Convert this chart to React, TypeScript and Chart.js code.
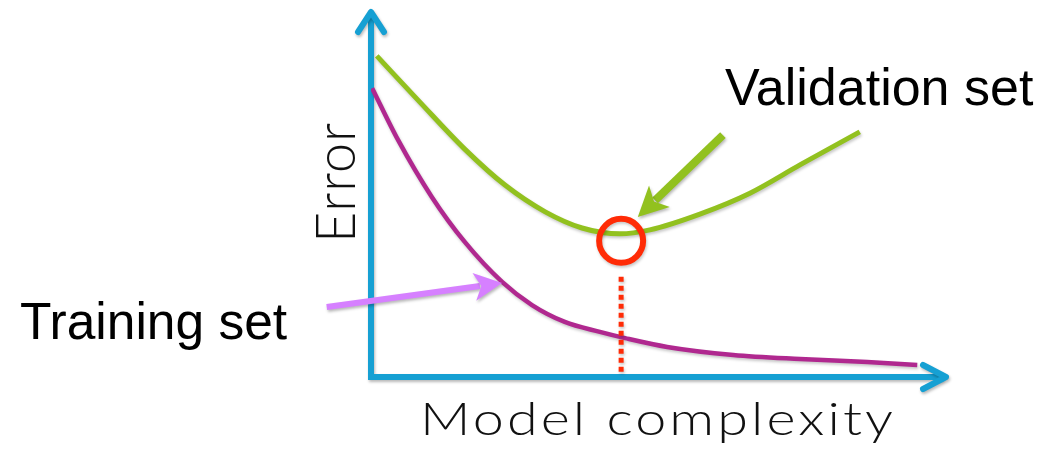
import React, { useEffect, useRef } from "react";
import { Chart, registerables } from "chart.js";

Chart.register(...registerables);

// ---- data (model complexity vs error) ----
const validationComplexity = [0.1, 0.85, 1.63, 2.33, 3.03, 3.67, 4.33, 4.85, 5.72, 6.59, 7.46, 8.5];
const validationError = [8.75, 7.49, 6.21, 5.23, 4.5, 4.06, 3.9, 4.01, 4.44, 5.01, 5.78, 6.68];
const trainingComplexity = [0.02, 0.47, 1.06, 1.63, 2.28, 2.8, 3.37, 3.98, 4.42, 5.15, 6.3, 7.46, 8.63, 9.5];
const trainingError = [7.87, 6.46, 4.9, 3.68, 2.59, 1.96, 1.5, 1.23, 1.06, 0.82, 0.6, 0.49, 0.41, 0.33];
const optimumPoint = [4.35, 3.71];
const optimumDrop = [0.14, 2.83];
const axisRange = [0, 10];
const trainingPointer = [[-0.77, 1.91], [2.28, 2.56]];
const validationPointer = [[6.12, 6.59], [4.64, 4.36]];
const validationLabel = "Validation set";
const trainingLabel = "Training set";
const yTitle = "Error";
const xTitle = "Model complexity";

const BLUE = "#16a0d3";
const GREEN = "#92c11f";
const PURPLE = "#b0288f";
const PINK = "#d680ff";
const RED = "#ff2b06";
const SHADOW = "rgba(0,0,0,0.28)";

function toPts(xs: number[], ys: number[]) {
  return xs.map((x, i) => ({ x, y: ys[i] }));
}

function drawPointer(ctx: CanvasRenderingContext2D, x1: number, y1: number, x2: number, y2: number, color: string, width: number, headLen: number, headHalf: number) {
  const ang = Math.atan2(y2 - y1, x2 - x1);
  const cos = Math.cos(ang), sin = Math.sin(ang);
  const bx = x2 - cos * headLen * 0.8, by = y2 - sin * headLen * 0.8;
  ctx.strokeStyle = color;
  ctx.fillStyle = color;
  ctx.lineWidth = width;
  ctx.lineCap = "butt";
  ctx.beginPath();
  ctx.moveTo(x1, y1);
  ctx.lineTo(bx, by);
  ctx.stroke();
  const backX = x2 - cos * headLen, backY = y2 - sin * headLen;
  ctx.beginPath();
  ctx.moveTo(x2, y2);
  ctx.lineTo(backX - sin * headHalf, backY + cos * headHalf);
  ctx.lineTo(x2 - cos * headLen * 0.75, y2 - sin * headLen * 0.75);
  ctx.lineTo(backX + sin * headHalf, backY - cos * headHalf);
  ctx.closePath();
  ctx.fill();
}

// draws text left-aligned at (x, y), stretched horizontally to span `width`
function stretchText(ctx: CanvasRenderingContext2D, text: string, x: number, y: number, width: number, spacing: number) {
  (ctx as any).letterSpacing = spacing + "px";
  ctx.textAlign = "left";
  const w = ctx.measureText(text).width - spacing;
  const sx = width / w;
  ctx.save();
  ctx.translate(x, y);
  ctx.scale(sx, 1);
  ctx.fillText(text, 0, 0);
  ctx.restore();
  (ctx as any).letterSpacing = "0px";
}

const decorPlugin = {
  id: "decor",
  beforeDatasetsDraw(chart: any) {
    const { ctx, scales } = chart;
    const xs = scales.x, ys = scales.y;
    const x0 = xs.getPixelForValue(axisRange[0]);
    const x1 = xs.getPixelForValue(axisRange[1]);
    const y0 = ys.getPixelForValue(axisRange[0]);
    const y1 = ys.getPixelForValue(axisRange[1]);
    ctx.save();
    ctx.shadowColor = SHADOW;
    ctx.shadowBlur = 3;
    ctx.shadowOffsetX = 1;
    ctx.shadowOffsetY = 2;
    ctx.strokeStyle = BLUE;
    ctx.lineWidth = 6;
    ctx.lineJoin = "miter";
    ctx.lineCap = "butt";
    ctx.beginPath();
    ctx.moveTo(x0, y1 + 3);
    ctx.lineTo(x0, y0);
    ctx.lineTo(x1 - 3, y0);
    ctx.stroke();
    ctx.lineCap = "round";
    ctx.lineJoin = "round";
    ctx.beginPath();
    ctx.moveTo(x0 - 13, y1 + 22);
    ctx.lineTo(x0, y1 + 2);
    ctx.lineTo(x0 + 13, y1 + 22);
    ctx.stroke();
    ctx.beginPath();
    ctx.moveTo(x1 - 23, y0 - 12);
    ctx.lineTo(x1, y0);
    ctx.lineTo(x1 - 23, y0 + 12);
    ctx.stroke();
    ctx.restore();
  },
  beforeDatasetDraw(chart: any) {
    const ctx = chart.ctx;
    ctx.save();
    ctx.shadowColor = "rgba(0,0,0,0.22)";
    ctx.shadowBlur = 3;
    ctx.shadowOffsetX = 1;
    ctx.shadowOffsetY = 2;
  },
  afterDatasetDraw(chart: any) {
    chart.ctx.restore();
  },
  afterDraw(chart: any) {
    const { ctx, scales } = chart;
    const xs = scales.x, ys = scales.y;
    ctx.save();
    ctx.shadowColor = SHADOW;
    ctx.shadowBlur = 3;
    ctx.shadowOffsetX = 1;
    ctx.shadowOffsetY = 2;
    drawPointer(
      ctx,
      xs.getPixelForValue(trainingPointer[0][0]), ys.getPixelForValue(trainingPointer[0][1]),
      xs.getPixelForValue(trainingPointer[1][0]), ys.getPixelForValue(trainingPointer[1][1]),
      PINK, 6, 28, 14
    );
    drawPointer(
      ctx,
      xs.getPixelForValue(validationPointer[0][0]), ys.getPixelForValue(validationPointer[0][1]),
      xs.getPixelForValue(validationPointer[1][0]), ys.getPixelForValue(validationPointer[1][1]),
      GREEN, 8, 30, 15
    );
    ctx.restore();

    ctx.save();
    ctx.fillStyle = "#000";
    ctx.textAlign = "left";
    ctx.textBaseline = "alphabetic";
    ctx.font = "52px 'Liberation Sans', Arial, sans-serif";
    ctx.fillText(validationLabel, 725, 105);
    ctx.font = "51.5px 'Liberation Sans', Arial, sans-serif";
    ctx.fillText(trainingLabel, 20, 339);

    ctx.fillStyle = "#111";
    ctx.font = "300 45px Lato, 'Open Sans', sans-serif";
    stretchText(ctx, xTitle, 420, 435, 473, 2.5);

    ctx.save();
    ctx.translate(355, 243);
    ctx.rotate(-Math.PI / 2);
    ctx.font = "300 55px Lato, 'Open Sans', sans-serif";
    stretchText(ctx, yTitle, 0, 0, 120, 1);
    ctx.restore();
    ctx.restore();
  },
};

export default function App() {
  const ref = useRef<HTMLCanvasElement | null>(null);

  useEffect(() => {
    document.body.style.margin = "0";
    const canvas = ref.current;
    if (!canvas) return;
    const chart = new Chart(canvas, {
      type: "line",
      data: {
        datasets: [
          {
            label: "optimum",
            data: [{ x: optimumPoint[0], y: optimumPoint[1] }],
            showLine: false,
            pointRadius: 22,
            pointHoverRadius: 22,
            pointBorderWidth: 6,
            pointBorderColor: RED,
            pointBackgroundColor: "rgba(0,0,0,0)",
            borderColor: RED,
            order: 0,
          },
          {
            label: "drop",
            data: [
              { x: optimumPoint[0], y: optimumDrop[0] },
              { x: optimumPoint[0], y: optimumDrop[1] },
            ],
            borderColor: RED,
            borderWidth: 5,
            borderDash: [5, 4],
            pointRadius: 0,
            order: 1,
          },
          {
            label: validationLabel,
            data: toPts(validationComplexity, validationError),
            borderColor: GREEN,
            borderWidth: 5,
            pointRadius: 0,
            cubicInterpolationMode: "monotone",
            order: 2,
          },
          {
            label: trainingLabel,
            data: toPts(trainingComplexity, trainingError),
            borderColor: PURPLE,
            borderWidth: 4.5,
            pointRadius: 0,
            cubicInterpolationMode: "monotone",
            order: 3,
          },
        ],
      },
      options: {
        responsive: false,
        animation: false,
        layout: { autoPadding: false, padding: { left: 371, right: 97, top: 10, bottom: 77 } },
        scales: {
          x: { type: "linear", min: axisRange[0], max: axisRange[1], display: false },
          y: { type: "linear", min: axisRange[0], max: axisRange[1], display: false },
        },
        plugins: {
          legend: { display: false },
          tooltip: { enabled: false },
        },
        events: [],
      } as any,
      plugins: [decorPlugin],
    });
    return () => chart.destroy();
  }, []);

  return (
    <div style={{ position: "absolute", left: 0, top: 0, width: 1043, height: 454, background: "#fff" }}>
      <canvas ref={ref} width={1043} height={454} />
    </div>
  );
}
